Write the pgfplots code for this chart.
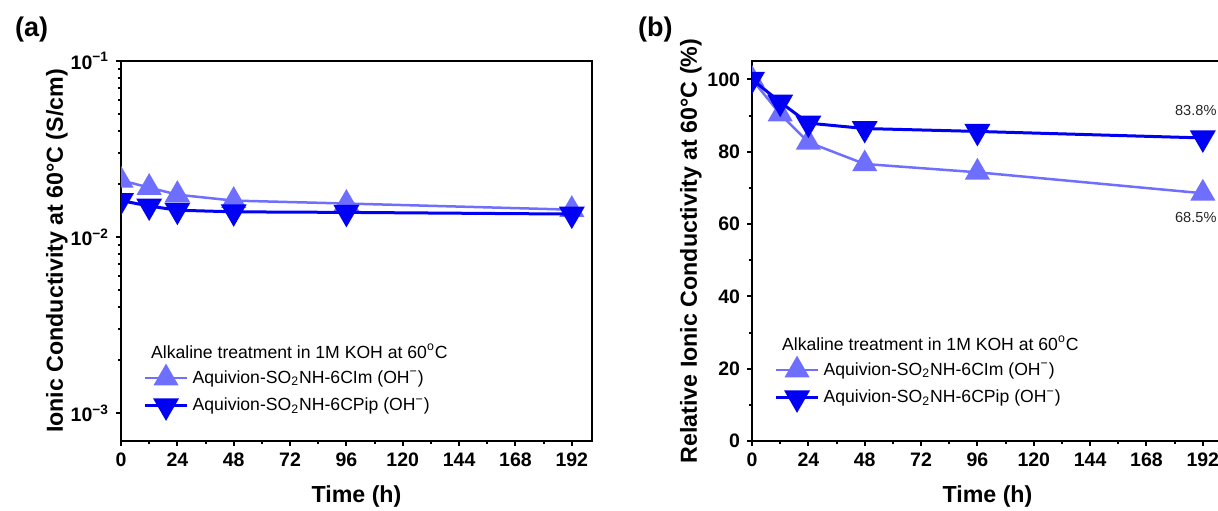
\documentclass[border=0pt]{standalone}
\usepackage{fontspec}
\setmainfont{Liberation Sans}
\usepackage{pgfplots}
\pgfplotsset{compat=1.18}

\definecolor{imc}{RGB}{110,110,255}
\definecolor{pipc}{RGB}{0,0,245}

\newcommand{\legfont}{\fontsize{8.8}{10}\selectfont}

\pgfplotsset{
  panel/.style={
    scale only axis, width=235.5pt, height=190pt,
    xmin=0, xmax=200.6, xtick={0,24,...,192}, minor x tick num=1,
    axis line style={line width=1pt},
    every tick/.style={line width=1pt, black},
    major tick length=2.5pt, minor tick length=1.5pt,
    tick align=outside, tick pos=left,
    tick label style={font=\fontsize{9.75}{10}\selectfont\bfseries},
    /pgf/number format/assume math mode=true,
    label style={font=\fontsize{11.6}{12}\selectfont\bfseries},
    xlabel={Time (h)},
    xlabel style={at={(axis description cs:0.5,-0.147)}, anchor=center},
    clip marker paths=true,
    legend cell align=left,
    legend style={draw=none, fill=none, font=\legfont, inner sep=0pt,
      row sep=2pt, column sep=0pt},
    legend image code/.code={\draw[mark repeat=2,mark phase=2]
      plot coordinates {(0pt,0pt) (10.5pt,0pt) (21pt,0pt)};},
  },
  imstyle/.style={color=imc, line width=1.25pt, mark=triangle*, mark size=6pt,
    mark options={fill=imc}},
  pipstyle/.style={color=pipc, line width=1.5pt, mark=triangle*, mark size=6pt,
    mark options={fill=pipc, rotate=180}},
}

\begin{document}
\begin{tikzpicture}
\path[use as bounding box] (0,0) rectangle (609pt,-255pt);

\node[anchor=west, font=\fontsize{13.5}{14}\selectfont\bfseries] at (4pt,-15pt) {(a)};
\node[anchor=west, font=\fontsize{13.5}{14}\selectfont\bfseries] at (315.5pt,-15pt) {(b)};

% (a) absolute conductivity, log scale
\begin{semilogyaxis}[panel,
  at={(60.5pt,-220.5pt)}, anchor=south west,
  ymin=6.93e-4, ymax=0.1,
  ytick={0.001,0.01,0.1},
  yticklabels={10\textsuperscript{−3},10\textsuperscript{−2},10\textsuperscript{−1}},
  ylabel={Ionic Conductivity at 60°C (S/cm)},
  ylabel style={at={(axis description cs:-0.136,0.5)}, anchor=center},
  legend style={at={(axis description cs:0.047,0.129)}, anchor=west},
]
\addplot[imstyle] coordinates {
(0,0.0210) (12,0.0191) (24,0.0174) (48,0.0161) (96,0.0155) (192,0.0143)
};
\addlegendentry{Aquivion-SO\textsubscript{2}NH-6CIm (OH\textsuperscript{−})}
\addplot[pipstyle] coordinates {
(0,0.0161) (12,0.0150) (24,0.0142) (48,0.0139) (96,0.0138) (192,0.0135)
};
\addlegendentry{Aquivion-SO\textsubscript{2}NH-6CPip (OH\textsuperscript{−})}
\node[anchor=west, font=\legfont] at (axis description cs:0.049,0.237)
  {Alkaline treatment in 1M KOH at 60\textsuperscript{o}C};
\end{semilogyaxis}

% (b) relative conductivity
\begin{axis}[panel,
  at={(376pt,-220.5pt)}, anchor=south west,
  ymin=0, ymax=105.07,
  ytick={0,20,...,100}, minor y tick num=1,
  ylabel={Relative Ionic Conductivity at 60°C (\%)},
  ylabel style={at={(axis description cs:-0.13,0.5)}, anchor=center},
  legend style={at={(axis description cs:0.047,0.15)}, anchor=west},
]
\addplot[imstyle] coordinates {
(0,100) (12,90.4) (24,82.6) (48,76.6) (96,74.3) (192,68.5)
};
\addlegendentry{Aquivion-SO\textsubscript{2}NH-6CIm (OH\textsuperscript{−})}
\addplot[pipstyle] coordinates {
(0,100) (12,93.7) (24,87.9) (48,86.4) (96,85.6) (192,83.8)
};
\addlegendentry{Aquivion-SO\textsubscript{2}NH-6CPip (OH\textsuperscript{−})}
\node[anchor=west, font=\legfont] at (axis description cs:0.049,0.258)
  {Alkaline treatment in 1M KOH at 60\textsuperscript{o}C};
\node[font=\fontsize{7.3}{8}\selectfont, text=black!85] at (axis cs:192,83.8)
  [xshift=-3.5pt, yshift=13.5pt] {83.8\%};
\node[font=\fontsize{7.3}{8}\selectfont, text=black!85] at (axis cs:192,68.5)
  [xshift=-3.5pt, yshift=-12pt] {68.5\%};
\end{axis}
\end{tikzpicture}
\end{document}
